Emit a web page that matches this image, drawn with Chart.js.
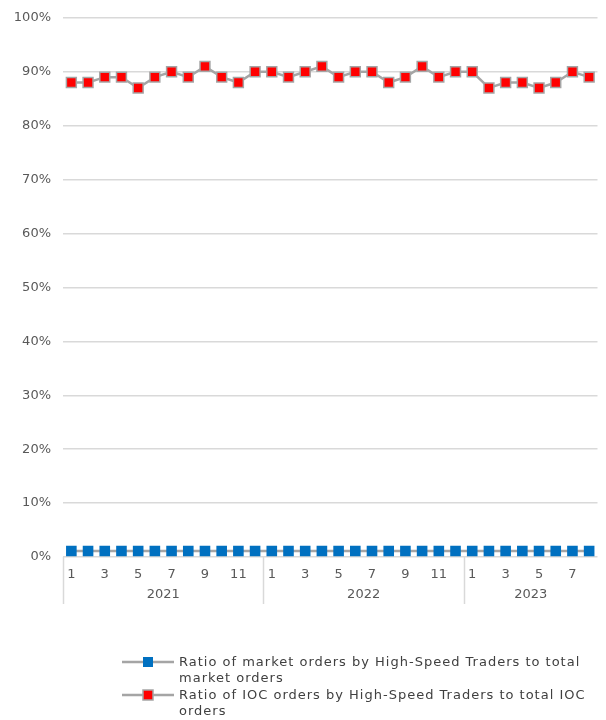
<!DOCTYPE html>
<html>
<head>
<meta charset="utf-8">
<script src="https://cdn.jsdelivr.net/npm/chart.js@4/dist/chart.umd.min.js"></script>
<style>
  body { margin: 0; background: #fff; }
  #wrap { position: relative; width: 606px; height: 720px; }
  #legend { position: absolute; left: 122px; top: 654px; width: 484px;
    font: 13px "DejaVu Sans", sans-serif; color: #404040; letter-spacing: 1px; }
  .item { position: relative; padding-left: 57px; line-height: 16px; margin-bottom: 1px; }
  .sym { position: absolute; left: 0; top: 2px; width: 52px; height: 12px; }
</style>
</head>
<body>
<div id="wrap">
  <canvas id="chart" width="606" height="720"></canvas>
  <div id="legend"></div>
</div>
<script>
// months shown on the axis, grouped by year
const years = ["2021", "2022", "2023"];
const monthsPerYear = [12, 12, 8];
const months = [];
years.forEach((y, i) => {
  for (let m = 1; m <= monthsPerYear[i]; m++) months.push(String(m));
});

const marketRatio = [
  1.1, 1.1, 1.1, 1.1, 1.1, 1.1, 1.1, 1.1, 1.1, 1.1, 1.1, 1.1,
  1.1, 1.1, 1.1, 1.1, 1.1, 1.1, 1.1, 1.1, 1.1, 1.1, 1.1, 1.1,
  1.1, 1.1, 1.1, 1.1, 1.1, 1.1, 1.1, 1.1
];
const iocRatio = [
  88, 88, 89, 89, 87, 89, 90, 89, 91, 89, 88, 90,
  90, 89, 90, 91, 89, 90, 90, 88, 89, 91, 89, 90,
  90, 87, 88, 88, 87, 88, 90, 89
];

const seriesNames = [
  "Ratio of market orders by High-Speed Traders to total market orders",
  "Ratio of IOC orders by High-Speed Traders to total IOC orders"
];

const gridColor = "#d9d9d9";
const textColor = "#595959";

// year labels + separators under the month labels
const yearGroups = {
  id: "yearGroups",
  afterDraw(chart) {
    const x = chart.scales.x;
    const ctx = chart.ctx;
    const top = chart.chartArea.bottom;
    ctx.save();
    ctx.strokeStyle = gridColor;
    ctx.lineWidth = 1.5;
    ctx.fillStyle = textColor;
    ctx.font = '13px "DejaVu Sans", sans-serif';
    ctx.textAlign = "center";
    ctx.textBaseline = "middle";
    let start = 0;
    monthsPerYear.forEach((n, i) => {
      const end = start + n - 1;
      const left = start === 0 ? x.left : (x.getPixelForValue(start - 1) + x.getPixelForValue(start)) / 2;
      ctx.beginPath();
      ctx.moveTo(Math.round(left) + 0.5, top);
      ctx.lineTo(Math.round(left) + 0.5, top + 47);
      ctx.stroke();
      const right = end === months.length - 1 ? x.right : (x.getPixelForValue(end) + x.getPixelForValue(end + 1)) / 2;
      ctx.fillText(years[i], (left + right) / 2, top + 38);
      start += n;
    });
    ctx.restore();
  }
};

new Chart(document.getElementById("chart"), {
  type: "line",
  data: {
    labels: months,
    datasets: [
      {
        label: seriesNames[0],
        data: marketRatio,
        borderColor: "#a5a5a5",
        borderWidth: 2.5,
        pointStyle: "rect",
        pointRadius: 7.5,
        pointBackgroundColor: "#0070c0",
        pointBorderColor: "#0070c0",
        pointBorderWidth: 0
      },
      {
        label: seriesNames[1],
        data: iocRatio,
        borderColor: "#a5a5a5",
        borderWidth: 2.5,
        pointStyle: "rect",
        pointRadius: 7,
        pointBackgroundColor: "#ff0000",
        pointBorderColor: "#a5a5a5",
        pointBorderWidth: 1.5
      }
    ]
  },
  options: {
    responsive: false,
    animation: false,
    tension: 0,
    layout: { padding: { top: 12, right: 0, left: 0, bottom: 0 } },
    plugins: { legend: { display: false }, tooltip: { enabled: false } },
    scales: {
      x: {
        offset: true,
        grid: { display: false },
        border: { display: false },
        afterFit: s => { s.height = 163; },
        ticks: {
          autoSkip: false,
          maxRotation: 0,
          color: textColor,
          font: { family: "DejaVu Sans", size: 13 },
          padding: 2,
          callback: (v, i) => (Number(months[i]) % 2 === 1 ? months[i] : "")
        }
      },
      y: {
        min: 0,
        max: 100,
        afterFit: s => { s.width = 63; },
        border: { display: false },
        grid: { color: gridColor, lineWidth: 1.5, drawTicks: false },
        ticks: {
          stepSize: 10,
          padding: 12,
          color: textColor,
          font: { family: "DejaVu Sans", size: 13, lineHeight: 0.9 },
          callback: v => v + "%"
        }
      }
    }
  },
  plugins: [yearGroups]
});

// legend with wrapped text
const legend = document.getElementById("legend");
const symFill = ["#0070c0", "#ff0000"];
seriesNames.forEach((name, i) => {
  const div = document.createElement("div");
  div.className = "item";
  div.innerHTML = `<svg class="sym" viewBox="0 0 52 12">
      <line x1="0" y1="6" x2="52" y2="6" stroke="#a5a5a5" stroke-width="2.5"/>
      <rect x="21" y="1" width="10" height="10" fill="${symFill[i]}" stroke="${i ? "#a5a5a5" : "none"}" stroke-width="1.5"/>
    </svg>${name}`;
  legend.appendChild(div);
});
</script>
</body>
</html>
